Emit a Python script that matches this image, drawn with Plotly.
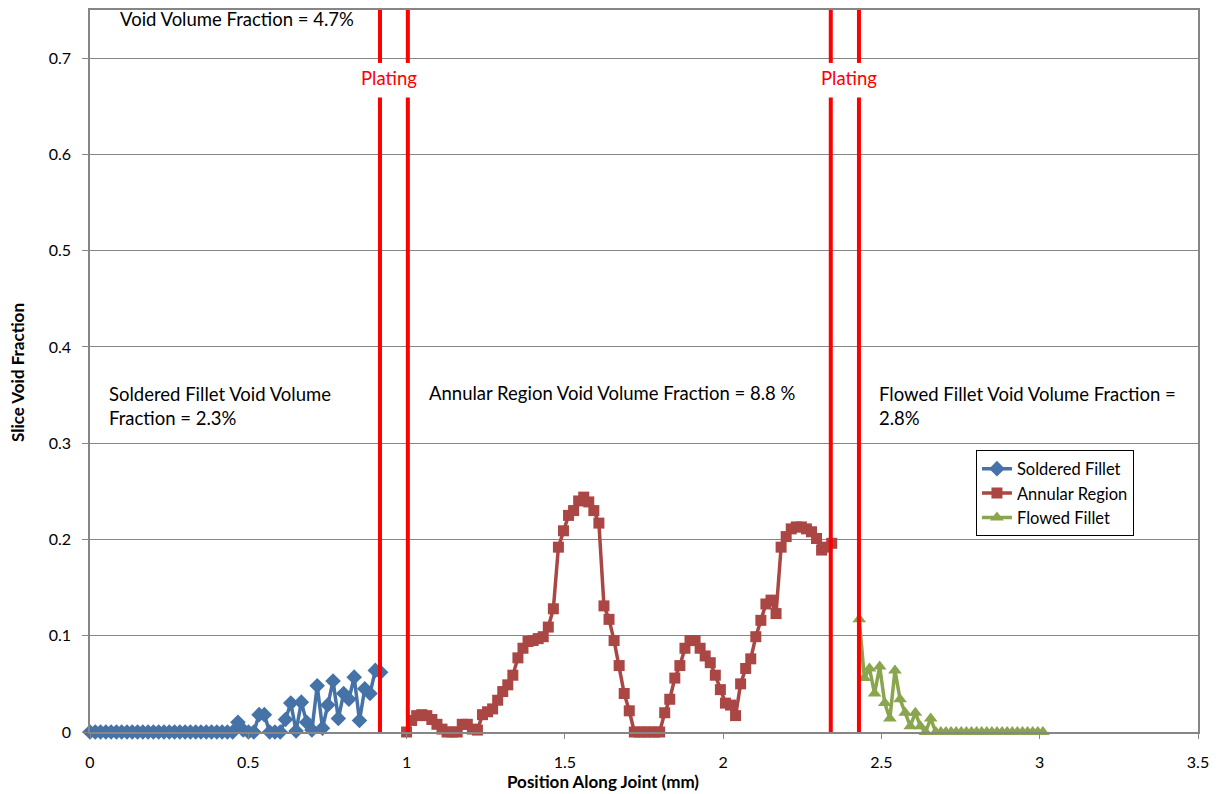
import numpy as np
import plotly.graph_objects as go

# Slice void fraction along the joint, one value per CT slice
soldered_start, soldered_end = 0.0, 0.918
soldered_y = [0.0] * 28 + [
    0.010, 0.002, 0.0, 0.0, 0.018, 0.018, 0.0, 0.0, 0.0, 0.013,
    0.030, 0.001, 0.031, 0.010, 0.002, 0.048, 0.004, 0.028, 0.053, 0.014,
    0.040, 0.034, 0.057, 0.012, 0.045, 0.040, 0.064, 0.062,
]

annular_start, annular_end = 1.0, 2.343
annular_y = [
    0.000, 0.012, 0.017, 0.018, 0.017, 0.013, 0.008, 0.003, 0.000, 0.000,
    0.000, 0.008, 0.008, 0.003, 0.002, 0.018, 0.021, 0.024, 0.033, 0.042,
    0.049, 0.059, 0.077, 0.087, 0.094, 0.095, 0.097, 0.099, 0.109, 0.128,
    0.192, 0.209, 0.225, 0.230, 0.240, 0.244, 0.239, 0.230, 0.217, 0.131,
    0.117, 0.095, 0.069, 0.040, 0.022, 0.000, 0.000, 0.000, 0.000, 0.000,
    0.000, 0.020, 0.034, 0.056, 0.069, 0.087, 0.095, 0.095, 0.087, 0.079,
    0.072, 0.059, 0.044, 0.030, 0.028, 0.017, 0.050, 0.066, 0.076, 0.099,
    0.116, 0.133, 0.137, 0.123, 0.192, 0.203, 0.211, 0.213, 0.213, 0.211,
    0.208, 0.201, 0.189, 0.192, 0.196,
]

flowed_start, flowed_end = 2.43, 3.01
flowed_y = [
    0.117, 0.056, 0.066, 0.040, 0.068, 0.030, 0.014, 0.064, 0.034, 0.020,
    0.006, 0.020, 0.006, 0.000, 0.014, 0.000,
] + [0.0] * 21

# Copper plating boundaries (mm)
plating_x = [0.916, 1.004, 2.340, 2.429]
plating_label_x = [0.944, 2.399]

series = [
    ("Soldered Fillet", soldered_start, soldered_end, soldered_y, "#4572A7", "diamond", 12),
    ("Annular Region", annular_start, annular_end, annular_y, "#AA4643", "square", 11),
    ("Flowed Fillet", flowed_start, flowed_end, flowed_y, "#89A54E", "triangle-up", 12),
]

FONT = "Lato, 'Open Sans', sans-serif"

fig = go.Figure()
for name, x0, x1, ys, color, symbol, size in series:
    xs = np.linspace(x0, x1, len(ys))
    fig.add_trace(go.Scatter(
        x=xs, y=ys, name=name, mode="lines+markers",
        line=dict(color=color, width=3.5),
        marker=dict(symbol=symbol, size=size, color=color),
        cliponaxis=False,
    ))

# Plating lines, broken around their labels
for px in plating_x:
    for y0, y1 in [(0.0, 0.659), (0.695, 0.75)]:
        fig.add_shape(type="line", xref="x", yref="y", x0=px, x1=px, y0=y0, y1=y1,
                      line=dict(color="#FF0000", width=4))
for lx in plating_label_x:
    fig.add_annotation(x=lx, y=0.679, text="Plating", showarrow=False,
                       font=dict(color="#FF0000", size=18.5, family=FONT))

notes = [
    (0.089, 0.741, "Void Volume Fraction = 4.7%"),
    (0.054, 0.339, "Soldered Fillet Void Volume<br>Fraction = 2.3%"),
    (1.065, 0.3526, "Annular Region Void Volume Fraction = 8.8 %"),
    (2.486, 0.339, "Flowed Fillet Void Volume Fraction =<br>2.8%"),
]
for nx, ny, txt in notes:
    fig.add_annotation(x=nx, y=ny, text=txt, showarrow=False, xanchor="left",
                       align="left", font=dict(color="#000000", size=18.5, family=FONT))

# Axis titles
fig.add_annotation(xref="paper", yref="paper", x=(603 - 90) / 1108, y=-50 / 724,
                   text="<b>Position Along Joint (mm)</b>", showarrow=False,
                   xanchor="center", yanchor="middle", font=dict(size=17, family=FONT))
fig.add_annotation(xref="paper", yref="paper", x=-72 / 1108, y=(732 - 372) / 724,
                   text="<b>Slice Void Fraction</b>", showarrow=False, textangle=-90,
                   xanchor="center", yanchor="middle", font=dict(size=17, family=FONT))

fig.update_layout(
    width=1219, height=794,
    margin=dict(l=90, r=21, t=8, b=62),
    paper_bgcolor="white", plot_bgcolor="white",
    font=dict(family=FONT, size=16, color="#000000"),
    showlegend=True,
    legend=dict(x=0.7996, y=0.39, xanchor="left", yanchor="top",
                bordercolor="#000000", borderwidth=1, bgcolor="white",
                font=dict(size=16.5, family=FONT), tracegroupgap=0,
                itemwidth=30),
    xaxis=dict(
        range=[0, 3.5], tickvals=[0, 0.5, 1, 1.5, 2, 2.5, 3, 3.5],
        ticktext=["0", "0.5", "1", "1.5", "2", "2.5", "3", "3.5"],
        showgrid=False, zeroline=False,
        showline=True, linecolor="#868686", linewidth=1.5, mirror=True,
        ticks="outside", ticklen=5, tickcolor="#868686", ticklabelstandoff=10,
    ),
    yaxis=dict(
        range=[0, 0.75], tickvals=[0, 0.1, 0.2, 0.3, 0.4, 0.5, 0.6, 0.7],
        ticktext=["0", "0.1", "0.2", "0.3", "0.4", "0.5", "0.6", "0.7"],
        showgrid=True, gridcolor="#868686", gridwidth=1, zeroline=False,
        showline=True, linecolor="#868686", linewidth=1.5, mirror=True,
        ticks="outside", ticklen=6, tickcolor="#868686", ticklabelstandoff=8,
    ),
)

fig.write_html("out.html")
